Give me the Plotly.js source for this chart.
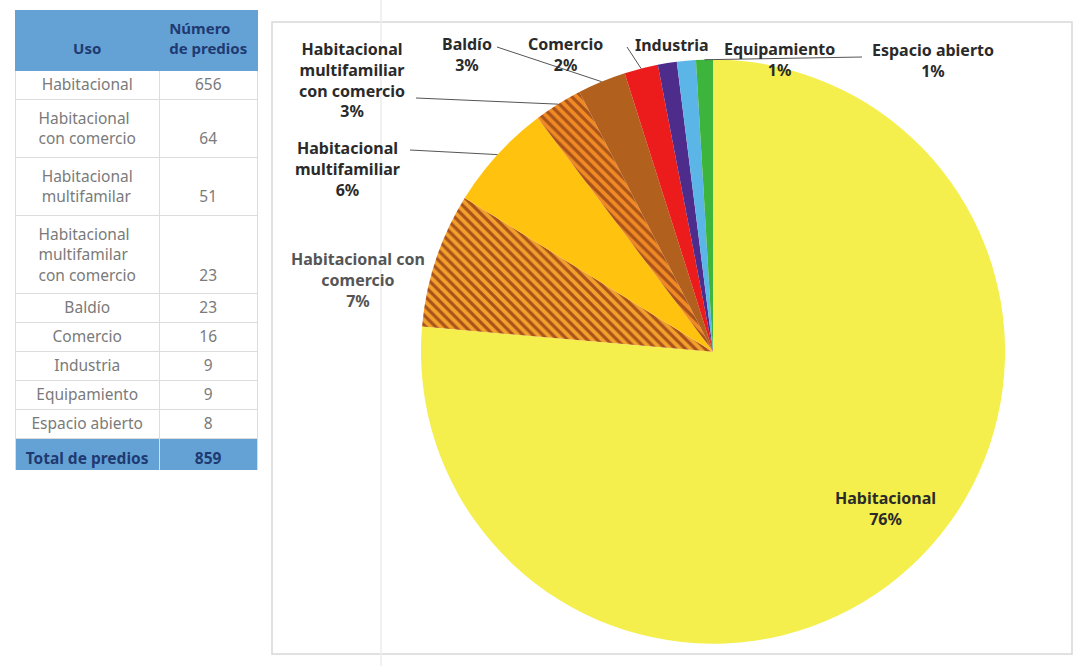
<!DOCTYPE html>
<html>
<head>
<meta charset="utf-8">
<script src="https://cdn.plot.ly/plotly-3.0.1.min.js"></script>
<style>html,body{margin:0;padding:0;background:#fff;}#chart{width:1073px;height:666px;}</style>
</head>
<body>
<div id="chart"></div>
<script>
// ---- data ----
const usos = ['Habitacional', 'Habitacional<br>con comercio', 'Habitacional<br>multifamilar',
  'Habitacional<br>multifamilar<br>con comercio', 'Baldío', 'Comercio', 'Industria',
  'Equipamiento', 'Espacio abierto'];
const predios = [656, 64, 51, 23, 23, 16, 9, 9, 8];
const etiquetas = ['Habitacional', 'Habitacional con comercio', 'Habitacional multifamiliar',
  'Habitacional multifamiliar con comercio', 'Baldío', 'Comercio', 'Industria',
  'Equipamiento', 'Espacio abierto'];
const etiquetasPie = ['Habitacional', 'Habitacional con<br>comercio', 'Habitacional<br>multifamiliar',
  'Habitacional<br>multifamiliar<br>con comercio', 'Baldío', 'Comercio', 'Industria',
  'Equipamiento', 'Espacio abierto'];
const headerUso = 'Uso';
const headerNum = 'Número<br>de predios';
const totalLabel = 'Total de predios';

// ---- styles ----
const colores = ['#F4EF4C', '#F3A12C', '#FFC20E', '#F08A24', '#B2601E', '#EC1C1C', '#4E2C8C', '#5BB5E6', '#3DB53D'];
const patShapes = ['', '\\', '', '\\', '', '', '', '', ''];
const patFg = ['#000', '#A8521A', '#000', '#A8521A', '#000', '#000', '#000', '#000', '#000'];
const W = 1073, H = 666;
const pieDom = {x: [0.392, 0.937], y: [0.0335, 0.9105]};
const NB = '\u00a0';

const total = predios.reduce((a, b) => a + b, 0);
const pct = predios.map(v => Math.round(v / total * 100) + '%');

// table columns
const colUso = usos.slice().concat(['<b>' + totalLabel + '</b>']);
const colNum = predios.map((v, i) => (NB + '<br>').repeat((usos[i].match(/<br>/g) || []).length) + v)
  .concat(['<b>' + total + '</b>']);
const nRows = colUso.length;
const fillCol = colUso.map((_, i) => i === nRows - 1 ? '#64A2D6' : '#ffffff');
const fontCol = colUso.map((_, i) => i === nRows - 1 ? '#1F3A70' : '#7a7a7a');

const tableTrace = {
  type: 'table',
  domain: {x: [15 / W, 258 / W], y: [1 - 470 / H, 1 - 10 / H]},
  columnwidth: [145, 98],
  header: {
    values: [NB + '<br><b>' + headerUso + '</b>', '<b>' + headerNum + '</b>'],
    align: 'center', height: 60,
    fill: {color: '#64A2D6'},
    line: {color: '#64A2D6', width: 1},
    font: {family: 'Noto Sans', size: 15, color: '#1F3A70'}
  },
  cells: {
    values: [colUso, colNum],
    align: 'center', height: 29,
    fill: {color: [fillCol, fillCol]},
    line: {color: '#dcdcdc', width: 1},
    font: {family: 'Noto Sans', size: 15.5, color: [fontCol, fontCol]}
  }
};

const pieTrace = {
  type: 'pie',
  labels: etiquetas,
  values: predios,
  sort: false,
  direction: 'clockwise',
  rotation: 0,
  textinfo: 'none',
  hoverinfo: 'label+value+percent',
  domain: pieDom,
  marker: {
    colors: colores,
    line: {width: 0},
    pattern: {shape: patShapes, fgcolor: patFg, bgcolor: colores, size: 7, solidity: 0.45}
  },
  showlegend: false
};

// pie geometry (px)
const cx = (pieDom.x[0] + pieDom.x[1]) / 2 * W;
const cy = (1 - (pieDom.y[0] + pieDom.y[1]) / 2) * H;
const R = Math.min((pieDom.x[1] - pieDom.x[0]) * W, (pieDom.y[1] - pieDom.y[0]) * H) / 2;
const mids = [];
let acc = 0;
predios.forEach(v => { mids.push((acc + v / 2) / total * 360); acc += v; });
function edge(i, f) {
  const t = mids[i] * Math.PI / 180;
  return [cx + f * R * Math.sin(t), cy - f * R * Math.cos(t)];
}
const px = x => x / W, py = y => 1 - y / H;

// label placements (px) : [x, y]
const labelPos = [[885, 508], [358, 280], [347, 169], [352, 80], [467, 54], [565, 54], [672, 45], [779, 59], [933, 61]];
const labelText = etiquetasPie.map((l, i) => i === 6 ? l : l + '<br>' + pct[i]);
const annotations = labelText.map((t, i) => ({
  xref: 'paper', yref: 'paper', x: px(labelPos[i][0]), y: py(labelPos[i][1]),
  text: '<b>' + t + '</b>', showarrow: false, xanchor: 'center', yanchor: 'middle',
  font: {family: 'Noto Sans', size: 16, color: i === 1 ? '#555' : '#2a2a2a'}
}));

// leader starts (px) for slices with leaders
const leaderStart = {2: [410, 150], 3: [416, 98], 4: [497, 47], 5: [627, 47], 8: [862, 57]};
const shapes = [
  {type: 'rect', xref: 'paper', yref: 'paper', x0: px(272), x1: px(1072), y0: py(654), y1: py(22),
   line: {color: '#d8d8d8', width: 1.5}},
  {type: 'line', xref: 'paper', yref: 'paper', x0: px(381), x1: px(381), y0: 0, y1: 1,
   line: {color: '#ececec', width: 1.5}}
];
Object.keys(leaderStart).forEach(k => {
  const i = +k, s = leaderStart[k], e = edge(i, 1.0);
  shapes.push({type: 'line', xref: 'paper', yref: 'paper', x0: px(s[0]), y0: py(s[1]), x1: px(e[0]), y1: py(e[1]),
    line: {color: '#555', width: 1}});
});

const layout = {
  width: W, height: H,
  margin: {l: 0, r: 0, t: 0, b: 0},
  paper_bgcolor: '#ffffff',
  annotations: annotations,
  shapes: shapes,
  showlegend: false
};

Plotly.newPlot('chart', [tableTrace, pieTrace], layout, {displayModeBar: false, staticPlot: true});
</script>
</body>
</html>
